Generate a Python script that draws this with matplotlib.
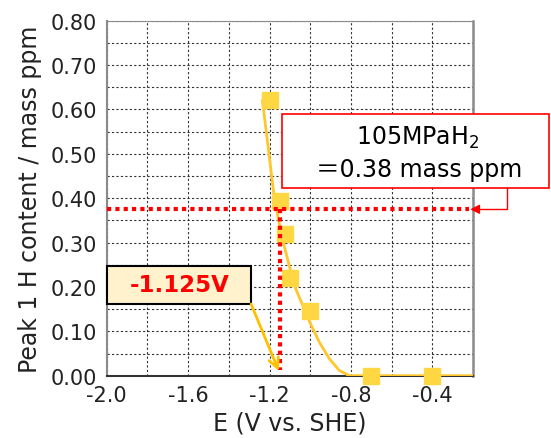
import matplotlib
matplotlib.use('Agg')
from matplotlib import pyplot as plt
from matplotlib.patches import Rectangle
import numpy as np

# measured points (squares)
E_pts = [-1.20, -1.147, -1.125, -1.10, -1.00, -0.70, -0.40]
H_pts = [0.621, 0.393, 0.319, 0.220, 0.145, 0.0, 0.0]

# trend curve
E_curve = [-1.235, -1.176, -1.137, -1.078, -1.002, -0.955, -0.906, -0.858, -0.808, -0.20]
H_curve = [0.620, 0.398, 0.308, 0.203, 0.120, 0.075, 0.038, 0.012, 0.0, 0.0]

h_level = 0.375     # 105 MPa H2 content
e_cross = -1.15     # crossing potential
x_ticks = [-2.0, -1.6, -1.2, -0.8, -0.4]
y_ticks = [0.0, 0.1, 0.2, 0.3, 0.4, 0.5, 0.6, 0.7, 0.8]

plt.rcParams['font.family'] = ['DejaVu Sans', 'Noto Sans CJK JP']

fig = plt.figure(figsize=(5.51, 4.39), dpi=100)
ax = fig.add_axes([0.1937, 0.1419, 0.6650, 0.8087])

ax.set_xlim(-2.0, -0.2)
ax.set_ylim(0.0, 0.8)
ax.set_xticks(x_ticks)
ax.set_xticks(np.arange(-2.0, -0.19, 0.2), minor=True)
ax.set_yticks(y_ticks)
ax.set_yticks(np.arange(0, 0.801, 0.05), minor=True)
ax.set_xticklabels(['%.1f' % v for v in x_ticks])
ax.set_yticklabels(['%.2f' % v for v in y_ticks])
ax.tick_params(which='both', length=0, labelsize=15, colors='#222222', pad=7)
ax.grid(which='both', color='#333333', linestyle=(0, (2, 2)), linewidth=0.8)
ax.set_axisbelow(True)

for s in ['left', 'right', 'top']:
	ax.spines[s].set_color('#8a8a8a')
ax.spines['left'].set_linewidth(1.5)
ax.spines['right'].set_linewidth(1.8)
ax.spines['top'].set_linewidth(0.8)
ax.spines['bottom'].set_color('#333333')
ax.spines['bottom'].set_linewidth(1.5)

ax.set_xlabel('E (V vs. SHE)', fontsize=17, color='#222222', labelpad=4)
ax.set_ylabel('Peak 1 H content / mass ppm', fontsize=17, color='#222222', labelpad=6)

# curve and points
ax.plot(E_curve, H_curve, color='#FFC72C', lw=2, zorder=3)
ax.plot(E_pts, H_pts, 's', color='#FFD743', markersize=12, zorder=4, clip_on=False)

# red dotted guide lines
ax.plot([-2.0, -0.22], [h_level, h_level], color='red', lw=3, linestyle=(0, (1, 1)), zorder=5)
ax.plot([e_cross, e_cross], [h_level, 0.012], color='red', lw=3, linestyle=(0, (1, 1)), zorder=5)

# callout 1
ax.add_patch(Rectangle((0.479, 0.529), 0.728, 0.208, transform=ax.transAxes,
	facecolor='white', edgecolor='red', lw=1.2, clip_on=False, zorder=6))
ax.text(0.848, 0.672, '105MPaH$_2$', transform=ax.transAxes, ha='center', va='center',
	fontsize=17, zorder=7)
ax.text(0.852, 0.582, '＝0.38 mass ppm', transform=ax.transAxes, ha='center', va='center',
	fontsize=17, zorder=7)
ax.annotate('', xy=(-0.215, h_level), xycoords='data',
	xytext=(1.092, 0.529), textcoords='axes fraction',
	arrowprops=dict(arrowstyle='-|>', color='red', lw=1, mutation_scale=14,
		connectionstyle='angle,angleA=90,angleB=0,rad=0', shrinkA=0, shrinkB=0),
	annotation_clip=False, zorder=6)

# callout 2
ax.add_patch(Rectangle((0.002, 0.202), 0.392, 0.108, transform=ax.transAxes,
	facecolor='#FFF2CC', edgecolor='black', lw=1.5, clip_on=False, zorder=6))
ax.text(0.198, 0.256, '-1.125V', transform=ax.transAxes, ha='center', va='center',
	fontsize=16.5, fontweight='bold', color='red', zorder=7)
ax.annotate('', xy=(-1.155, 0.011), xycoords='data',
	xytext=(0.394, 0.202), textcoords='axes fraction',
	arrowprops=dict(arrowstyle='->', color='#FFC000', lw=2, mutation_scale=18,
		shrinkA=0, shrinkB=0),
	annotation_clip=False, zorder=6)

plt.savefig('out.png', dpi=100)
